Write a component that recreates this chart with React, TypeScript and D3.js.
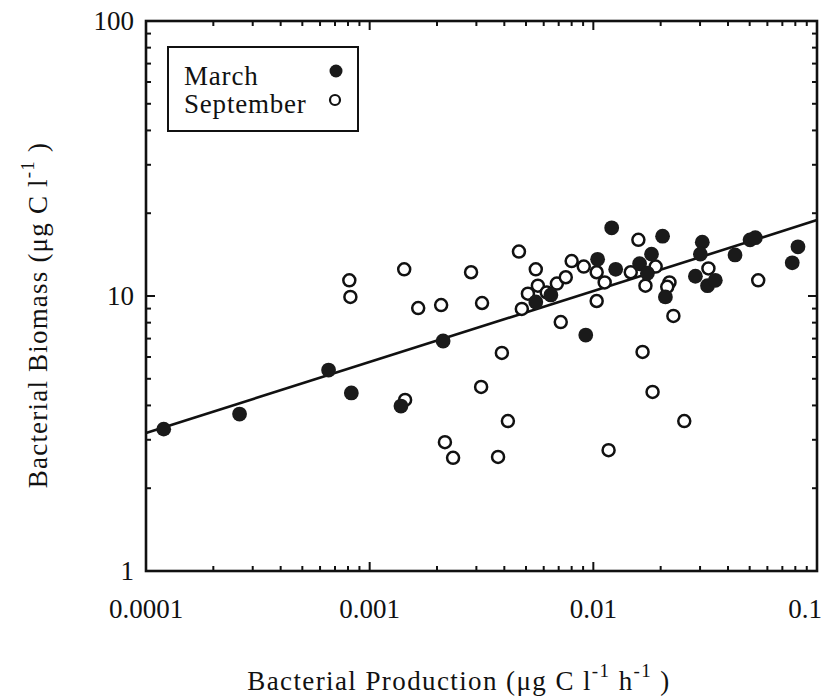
import React from "react";
import * as d3 from "d3";

const marchX = [1.2e-4, 2.62e-4, 6.55e-4, 8.28e-4, 1.38e-3, 2.13e-3, 5.53e-3, 6.46e-3, 9.25e-3, 0.01045, 0.01208, 0.01259, 0.0161, 0.0182, 0.01745, 0.0204, 0.021, 0.0307, 0.0301, 0.0286, 0.0324, 0.0351, 0.043, 0.0502, 0.053, 0.0775, 0.0822];
const marchY = [3.28, 3.72, 5.38, 4.44, 3.98, 6.86, 9.51, 10.09, 7.21, 13.6, 17.7, 12.5, 13.1, 14.2, 12.1, 16.5, 9.92, 15.7, 14.2, 11.8, 10.9, 11.4, 14.1, 16.0, 16.3, 13.2, 15.1];

const septX = [8.11e-4, 8.2e-4, 1.427e-3, 1.648e-3, 2.087e-3, 2.84e-3, 3.18e-3, 3.15e-3, 1.44e-3, 2.17e-3, 2.36e-3, 3.9e-3, 4.15e-3, 3.75e-3, 4.65e-3, 5.53e-3, 5.65e-3, 5.1e-3, 6.19e-3, 6.87e-3, 7.53e-3, 8.0e-3, 9.06e-3, 0.01035, 0.01124, 0.01035, 4.79e-3, 7.15e-3, 0.0147, 0.0159, 0.0171, 0.019, 0.0219, 0.0214, 0.0228, 0.0166, 0.0184, 0.0255, 0.0117, 0.0327, 0.0546];
const septY = [11.4, 9.92, 12.5, 9.04, 9.27, 12.2, 9.43, 4.67, 4.19, 2.94, 2.58, 6.21, 3.51, 2.6, 14.5, 12.5, 10.9, 10.2, 10.3, 11.1, 11.7, 13.4, 12.8, 12.2, 11.2, 9.59, 8.97, 8.04, 12.2, 16.0, 10.9, 12.8, 11.2, 10.8, 8.46, 6.26, 4.48, 3.51, 2.75, 12.6, 11.4];

// regression: y = a * x^b
const regA = 34.2;
const regB = 0.258;

const xTicks = [0.0001, 0.001, 0.01, 0.1];
const xTickLabels = ["0.0001", "0.001", "0.01", "0.1"];
const yTicks = [1, 10, 100];
const yTickLabels = ["1", "10", "100"];
const seriesNames = ["March", "September"];

const L = 146, R = 817, T = 21, B = 571;
const FONT = "'Liberation Serif', 'Times New Roman', serif";

export default function App() {
  const x = d3.scaleLog().domain([0.0001, 0.1]).range([L, R]);
  const y = d3.scaleLog().domain([1, 100]).range([B, T]);

  const minorX: number[] = [];
  for (let e = -4; e < -1; e++) for (let m = 2; m <= 9; m++) minorX.push(m * Math.pow(10, e));
  const minorY: number[] = [];
  for (let e = 0; e < 2; e++) for (let m = 2; m <= 9; m++) minorY.push(m * Math.pow(10, e));

  const lineGen = d3.line<number>().x((d) => x(d)).y((d) => y(regA * Math.pow(d, regB)));
  const regPts = [0.0001, 0.1];

  const sw = 2.6;
  const majLen = 9, minLen = 5;

  return (
    <svg width={826} height={696} style={{ position: "absolute", left: 0, top: 0, background: "#fff" }}>
      <rect x={0} y={0} width={826} height={696} fill="#fff" />
      {/* ticks */}
      <g stroke="#111" strokeWidth={2}>
        {xTicks.map((t, i) => (
          <g key={"xm" + i}>
            <line x1={x(t)} x2={x(t)} y1={B} y2={B - majLen} />
            <line x1={x(t)} x2={x(t)} y1={T} y2={T + majLen} />
          </g>
        ))}
        {minorX.map((t, i) => (
          <g key={"xn" + i}>
            <line x1={x(t)} x2={x(t)} y1={B} y2={B - minLen} />
            <line x1={x(t)} x2={x(t)} y1={T} y2={T + minLen} />
          </g>
        ))}
        {yTicks.map((t, i) => (
          <g key={"ym" + i}>
            <line x1={L} x2={L + majLen} y1={y(t)} y2={y(t)} />
            <line x1={R} x2={R - majLen} y1={y(t)} y2={y(t)} />
          </g>
        ))}
        {minorY.map((t, i) => (
          <g key={"yn" + i}>
            <line x1={L} x2={L + minLen} y1={y(t)} y2={y(t)} />
            <line x1={R} x2={R - minLen} y1={y(t)} y2={y(t)} />
          </g>
        ))}
      </g>
      <rect x={L} y={T} width={R - L} height={B - T} fill="none" stroke="#111" strokeWidth={sw} />

      {/* regression line */}
      <path d={lineGen(regPts) || ""} fill="none" stroke="#111" strokeWidth={2.6} />

      {/* points */}
      {septX.map((v, i) => (
        <circle key={"s" + i} cx={x(v)} cy={y(septY[i])} r={6} fill="#fff" stroke="#111" strokeWidth={2.5} />
      ))}
      {marchX.map((v, i) => (
        <circle key={"m" + i} cx={x(v)} cy={y(marchY[i])} r={7.4} fill="#1a1a1a" />
      ))}

      {/* tick labels */}
      <g fontFamily={FONT} fontSize={27} fill="#111">
        {xTicks.map((t, i) => (
          <text key={"xl" + i} x={i === xTicks.length - 1 ? 822 : x(t)} y={618} textAnchor={i === xTicks.length - 1 ? "end" : "middle"}>{xTickLabels[i]}</text>
        ))}
        {yTicks.map((t, i) => (
          <text key={"yl" + i} x={134} y={y(t) + 9} textAnchor="end">{yTickLabels[i]}</text>
        ))}
      </g>

      {/* axis titles */}
      <text x={459} y={690} textAnchor="middle" fontFamily={FONT} fontSize={27} letterSpacing={1.4} fill="#111">
        Bacterial Production (μg C l<tspan dy={-13} fontSize={19}>-1</tspan><tspan dy={13}> h</tspan><tspan dy={-13} fontSize={19}>-1</tspan><tspan dy={13}> )</tspan>
      </text>
      <text transform={`translate(47,315) rotate(-90)`} textAnchor="middle" fontFamily={FONT} fontSize={27} letterSpacing={1.2} fill="#111">
        Bacterial Biomass (μg C l<tspan dy={-13} fontSize={19}>-1</tspan><tspan dy={13}> )</tspan>
      </text>

      {/* legend */}
      <rect x={168} y={47} width={190} height={84} fill="#fff" stroke="#111" strokeWidth={2} />
      <text x={184} y={85} fontFamily={FONT} fontSize={27} letterSpacing={0.8} fill="#111">{seriesNames[0]}</text>
      <text x={184} y={113} fontFamily={FONT} fontSize={27} letterSpacing={0.8} fill="#111">{seriesNames[1]}</text>
      <circle cx={336} cy={71} r={6.5} fill="#1a1a1a" />
      <circle cx={335} cy={100} r={5} fill="#fff" stroke="#111" strokeWidth={2.2} />
    </svg>
  );
}
